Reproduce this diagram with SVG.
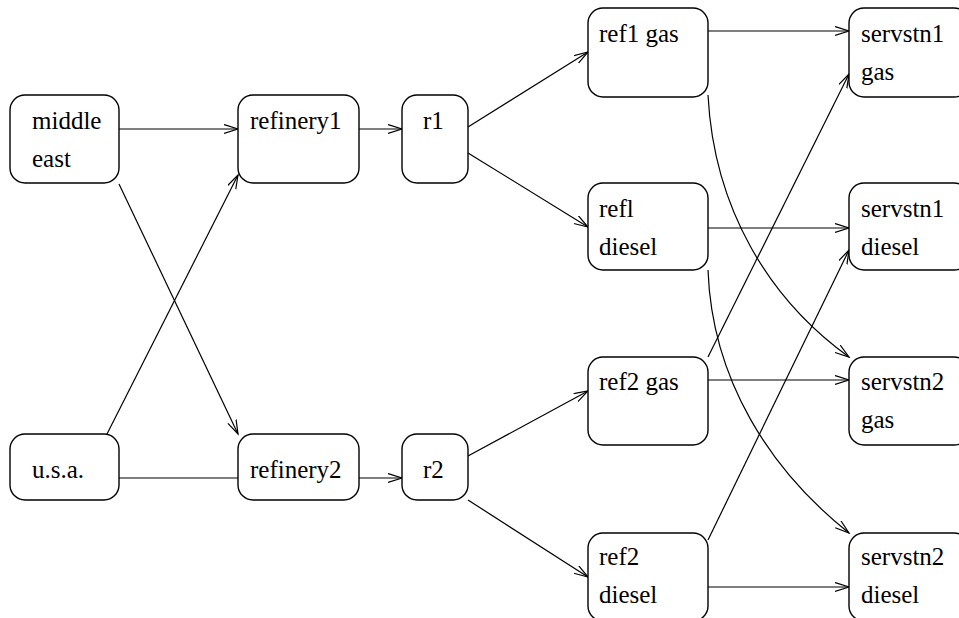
<svg xmlns="http://www.w3.org/2000/svg" width="959" height="618" viewBox="0 0 959 618">
<style>
.box{fill:#fff;stroke:#000;stroke-width:1.4}
.c{fill:none;stroke:#000;stroke-width:1.2}
</style>
<defs>
<marker id="a" markerUnits="userSpaceOnUse" markerWidth="16" markerHeight="12" refX="14" refY="5" orient="auto">
<path d="M0,0.5 L14,5 L0,9.5" fill="none" stroke="#000" stroke-width="1.2"/>
</marker>
</defs>
<rect width="959" height="618" fill="#fff"/>
<g id="connectors">
<line class="c" x1="119" y1="129" x2="238" y2="129" marker-end="url(#a)"/>
<line class="c" x1="359" y1="129" x2="402" y2="129" marker-end="url(#a)"/>
<line class="c" x1="468" y1="127" x2="588" y2="52" marker-end="url(#a)"/>
<line class="c" x1="468" y1="153" x2="588" y2="227" marker-end="url(#a)"/>
<line class="c" x1="119" y1="184" x2="238" y2="434" marker-end="url(#a)"/>
<line class="c" x1="107" y1="434" x2="238" y2="175" marker-end="url(#a)"/>
<line class="c" x1="119" y1="478" x2="238" y2="478"/>
<line class="c" x1="359" y1="478" x2="402" y2="478" marker-end="url(#a)"/>
<line class="c" x1="468" y1="456" x2="588" y2="391" marker-end="url(#a)"/>
<line class="c" x1="468" y1="500" x2="588" y2="577" marker-end="url(#a)"/>
<line class="c" x1="708" y1="31" x2="849" y2="31" marker-end="url(#a)"/>
<line class="c" x1="708" y1="228" x2="849" y2="228" marker-end="url(#a)"/>
<line class="c" x1="708" y1="380" x2="849" y2="380" marker-end="url(#a)"/>
<line class="c" x1="708" y1="587" x2="849" y2="587" marker-end="url(#a)"/>
<path class="c" d="M708,95 C714,210 770,300 849,357" marker-end="url(#a)"/>
<path class="c" d="M708,270 C712,380 770,470 849,533" marker-end="url(#a)"/>
<line class="c" x1="708" y1="357" x2="849" y2="74" marker-end="url(#a)"/>
<line class="c" x1="708" y1="540" x2="849" y2="250" marker-end="url(#a)"/>
</g>
<g id="middle_east"><rect class="box" x="10" y="95" width="109" height="88" rx="15"/><text x="32" y="129" style="font-family:'Liberation Serif',serif;font-size:25px">middle</text><text x="32" y="167" style="font-family:'Liberation Serif',serif;font-size:25px">east</text></g>
<g id="usa"><rect class="box" x="10" y="434" width="109" height="66" rx="15"/><text x="32" y="478" style="font-family:'Liberation Serif',serif;font-size:25px">u.s.a.</text></g>
<g id="refinery1"><rect class="box" x="238" y="95" width="121" height="88" rx="15"/><text x="250" y="129" style="font-family:'Liberation Serif',serif;font-size:25px">refinery1</text></g>
<g id="refinery2"><rect class="box" x="238" y="434" width="121" height="66" rx="15"/><text x="250" y="478" style="font-family:'Liberation Serif',serif;font-size:25px">refinery2</text></g>
<g id="r1"><rect class="box" x="402" y="95" width="66" height="88" rx="15"/><text x="423" y="129" style="font-family:'Liberation Serif',serif;font-size:25px">r1</text></g>
<g id="r2"><rect class="box" x="402" y="434" width="66" height="66" rx="15"/><text x="423" y="478" style="font-family:'Liberation Serif',serif;font-size:25px">r2</text></g>
<g id="ref1_gas"><rect class="box" x="588" y="8" width="120" height="89" rx="15"/><text x="599" y="42" style="font-family:'Liberation Serif',serif;font-size:25px">ref1 gas</text></g>
<g id="ref1_diesel"><rect class="box" x="588" y="183" width="120" height="87" rx="15"/><text x="599" y="217" style="font-family:'Liberation Serif',serif;font-size:25px">refl</text><text x="599" y="255" style="font-family:'Liberation Serif',serif;font-size:25px">diesel</text></g>
<g id="ref2_gas"><rect class="box" x="588" y="357" width="120" height="88" rx="15"/><text x="599" y="390" style="font-family:'Liberation Serif',serif;font-size:25px">ref2 gas</text></g>
<g id="ref2_diesel"><rect class="box" x="588" y="533" width="120" height="88" rx="15"/><text x="599" y="565" style="font-family:'Liberation Serif',serif;font-size:25px">ref2</text><text x="599" y="603" style="font-family:'Liberation Serif',serif;font-size:25px">diesel</text></g>
<g id="servstn1_gas"><rect class="box" x="849" y="8" width="120" height="89" rx="15"/><text x="861" y="42" style="font-family:'Liberation Serif',serif;font-size:25px">servstn1</text><text x="861" y="80" style="font-family:'Liberation Serif',serif;font-size:25px">gas</text></g>
<g id="servstn1_diesel"><rect class="box" x="849" y="183" width="120" height="87" rx="15"/><text x="861" y="217" style="font-family:'Liberation Serif',serif;font-size:25px">servstn1</text><text x="861" y="255" style="font-family:'Liberation Serif',serif;font-size:25px">diesel</text></g>
<g id="servstn2_gas"><rect class="box" x="849" y="357" width="120" height="88" rx="15"/><text x="861" y="390" style="font-family:'Liberation Serif',serif;font-size:25px">servstn2</text><text x="861" y="428" style="font-family:'Liberation Serif',serif;font-size:25px">gas</text></g>
<g id="servstn2_diesel"><rect class="box" x="849" y="533" width="120" height="88" rx="15"/><text x="861" y="565" style="font-family:'Liberation Serif',serif;font-size:25px">servstn2</text><text x="861" y="603" style="font-family:'Liberation Serif',serif;font-size:25px">diesel</text></g>
</svg>
